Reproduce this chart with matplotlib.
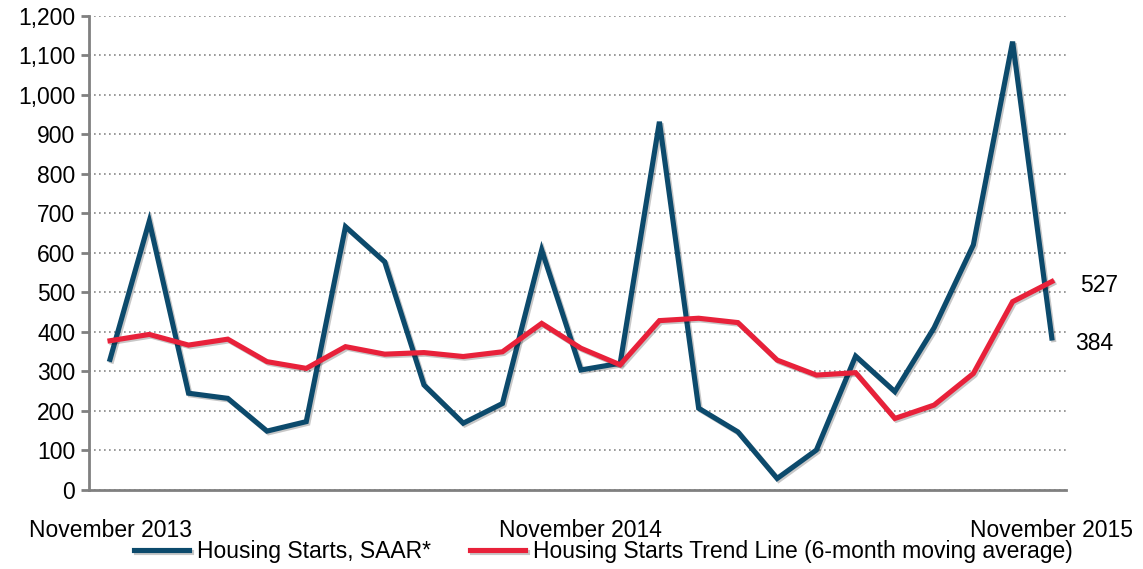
import matplotlib
matplotlib.use("Agg")
import matplotlib.pyplot as plt
import matplotlib.patheffects as pe
from matplotlib.ticker import FuncFormatter, MultipleLocator

plt.rcParams['font.family'] = ['Liberation Sans', 'DejaVu Sans']

months = list(range(25))
starts = [330, 680, 244, 231, 148, 172, 666, 577, 265, 168, 218, 607, 303, 320, 932,
          206, 146, 28, 100, 338, 248, 410, 620, 1135, 384]
trend = [377, 393, 366, 381, 324, 307, 362, 343, 347, 337, 349, 421, 358, 316, 428,
         434, 423, 328, 290, 296, 180, 214, 294, 476, 527]
tick_pos = [0, 12, 24]
tick_labels = ["November 2013", "November 2014", "November 2015"]
label_starts = "Housing Starts, SAAR*"
label_trend = "Housing Starts Trend Line (6-month moving average)"

blue = '#0c4a6c'
red = '#e8213a'
FS = 16.5

fig = plt.figure(figsize=(11.43, 5.69), dpi=100)
ax = fig.add_axes([0.0779, 0.1397, 0.8547, 0.8322])

shadow = [pe.SimpleLineShadow(offset=(1.2, -1.2), alpha=0.22, shadow_color='black'), pe.Normal()]
l1, = ax.plot(months, starts, color=blue, lw=3.7, solid_joinstyle='miter', path_effects=shadow,
              label=label_starts, zorder=3)
l2, = ax.plot(months, trend, color=red, lw=3.7, solid_joinstyle='miter', path_effects=shadow,
              label=label_trend, zorder=4)

ax.set_xlim(-0.535, 24.36)
ax.set_ylim(0, 1200)
ax.yaxis.set_major_locator(MultipleLocator(100))
ax.yaxis.set_major_formatter(FuncFormatter(lambda v, p: f"{int(v):,}"))
ax.grid(axis='y', linestyle=(0, (1, 2)), color='#888888', linewidth=1.2)
ax.set_axisbelow(True)

for s in ['top', 'right']:
    ax.spines[s].set_visible(False)
for s in ['left', 'bottom']:
    ax.spines[s].set_color('#808080')
    ax.spines[s].set_linewidth(2)

ax.set_xticks(tick_pos)
ax.set_xticklabels(tick_labels)
ax.tick_params(axis='x', length=0, pad=21, labelsize=FS, colors='black')
ax.tick_params(axis='y', length=6, width=2, color='#808080', pad=4, labelsize=FS)

ax.annotate(f"{trend[-1]}", xy=(months[-1], trend[-1]), xytext=(20, -3),
            textcoords='offset points', fontsize=FS, va='center', ha='left',
            annotation_clip=False)
ax.annotate(f"{starts[-1]}", xy=(months[-1], starts[-1]), xytext=(16.5, -4),
            textcoords='offset points', fontsize=FS, va='center', ha='left',
            annotation_clip=False)

fig.legend(handles=[l1, l2], loc='center', bbox_to_anchor=(0.528, 0.030), ncol=2,
           frameon=False, fontsize=FS, handlelength=2.4, handletextpad=0.35,
           columnspacing=1.7)

fig.savefig('out.png', dpi=100)
